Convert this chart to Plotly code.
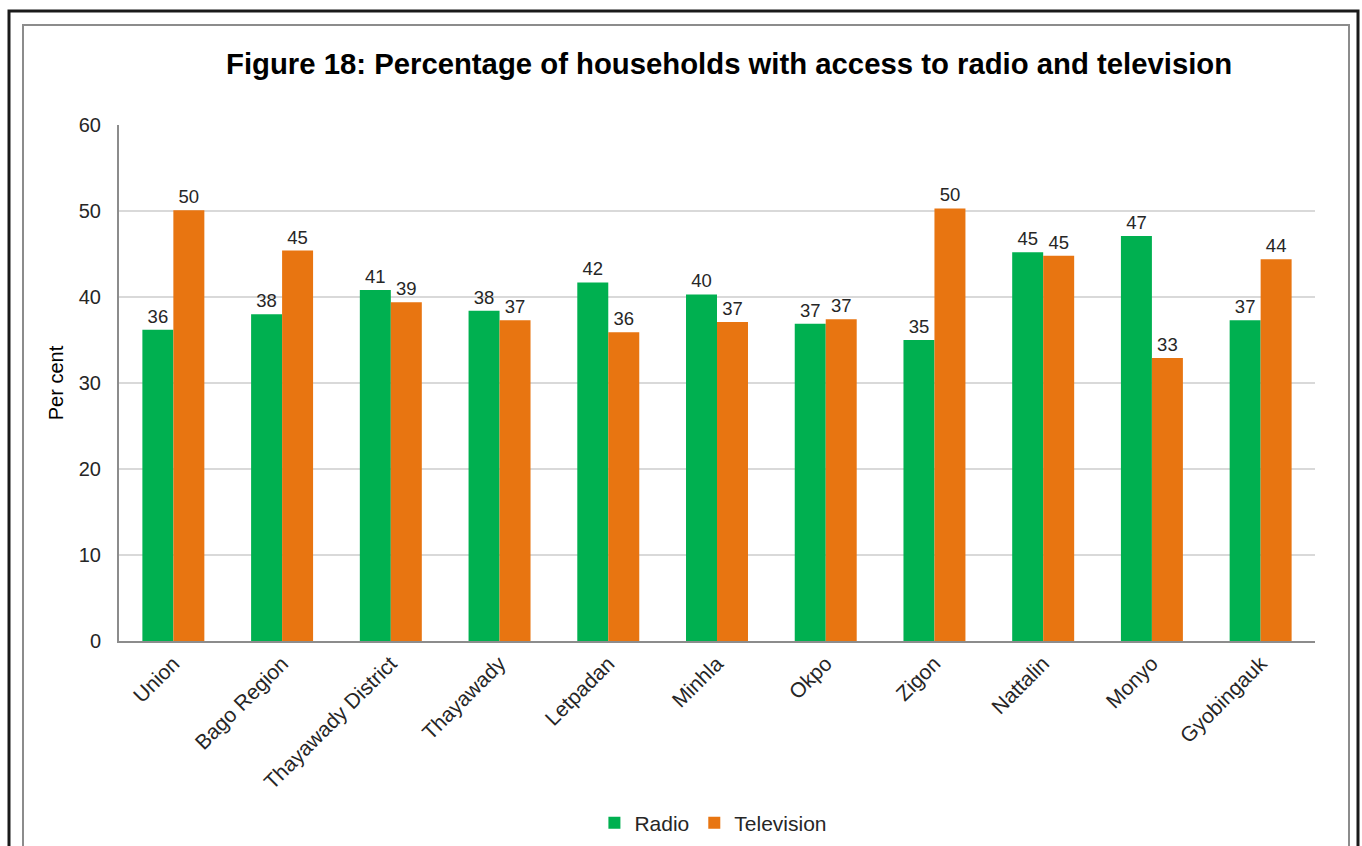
import plotly.graph_objects as go

categories = ["Union", "Bago Region", "Thayawady District", "Thayawady", "Letpadan",
              "Minhla", "Okpo", "Zigon", "Nattalin", "Monyo", "Gyobingauk"]
radio = [36.2, 38.0, 40.8, 38.4, 41.7, 40.3, 36.9, 35.0, 45.2, 47.1, 37.3]
television = [50.1, 45.4, 39.4, 37.3, 35.9, 37.1, 37.4, 50.3, 44.8, 32.9, 44.4]
y_ticks = [0, 10, 20, 30, 40, 50, 60]

W, H = 1362, 846
L, R, T, B = 119, 1315, 125, 641

def px(x):
    return (x - L) / (R - L)

def py(y):
    return (B - y) / (B - T)

FONT = "Liberation Sans, Arial, sans-serif"

fig = go.Figure()
fig.add_trace(go.Bar(name="Radio", x=categories, y=radio, marker_color="#00B050",
                     marker_line_width=0, texttemplate="%{y:.0f}", textposition="outside",
                     textfont=dict(size=18.5, color="#262626", family=FONT), cliponaxis=False))
fig.add_trace(go.Bar(name="Television", x=categories, y=television, marker_color="#E87511",
                     marker_line_width=0, texttemplate="%{y:.0f}", textposition="outside",
                     textfont=dict(size=18.5, color="#262626", family=FONT), cliponaxis=False))

fig.update_layout(
    width=W, height=H,
    margin=dict(l=L, r=W - R, t=T, b=H - B, autoexpand=False),
    paper_bgcolor="white", plot_bgcolor="white",
    barmode="group", bargap=0.43, bargroupgap=0,
    font=dict(family=FONT, color="#262626", size=20),
    showlegend=True,
    legend=dict(orientation="h", x=0.497, xanchor="center", y=py(823), yanchor="middle",
                font=dict(size=21, color="#262626"), itemwidth=30, traceorder="normal"),
    annotations=[
        dict(text="<b>Figure 18: Percentage of households with access to radio and television</b>",
             x=px(729), y=py(63), xref="paper", yref="paper", showarrow=False,
             xanchor="center", yanchor="middle", font=dict(size=29.3, color="#000000", family=FONT)),
    ],
    shapes=[
        dict(type="rect", xref="paper", yref="paper", x0=px(9), x1=px(1358), y0=py(11), y1=py(900),
             line=dict(color="#1a1a1a", width=3), layer="below"),
        dict(type="rect", xref="paper", yref="paper", x0=px(23), x1=px(1349), y0=py(25), y1=py(900),
             line=dict(color="#8c8c8c", width=2), layer="below"),
    ],
)

fig.update_xaxes(showline=True, linecolor="#8c8c8c", linewidth=2, tickangle=-45,
                 tickfont=dict(size=21, color="#262626"), ticks="", showgrid=False)
fig.update_yaxes(range=[0, 60], tickvals=y_ticks, showline=True, linecolor="#8c8c8c", linewidth=2,
                 showgrid=True, gridcolor="#d9d9d9", gridwidth=1.5, zeroline=False,
                 tickfont=dict(size=20, color="#262626"), ticks="", ticklen=0,
                 ticklabelstandoff=12,
                 title=dict(text="Per cent", font=dict(size=20, color="#000000"), standoff=10))

fig.write_html("out.html")
